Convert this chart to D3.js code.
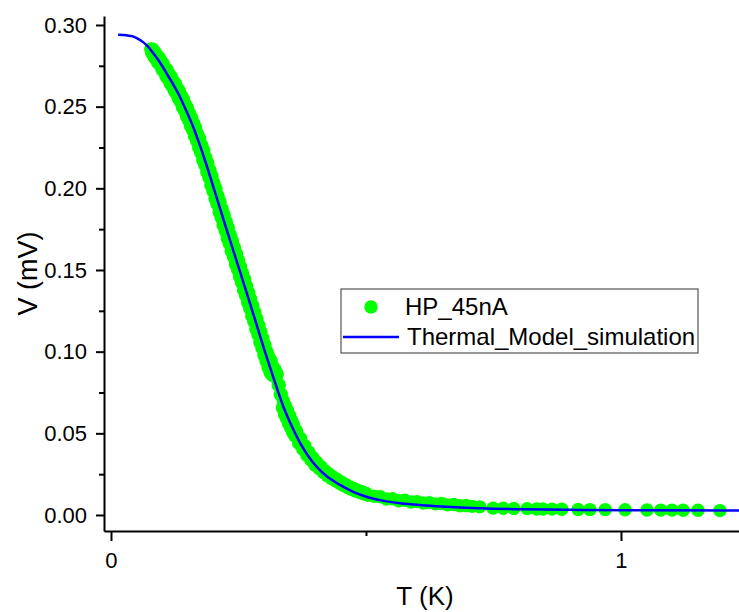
<!DOCTYPE html>
<html>
<head>
<meta charset="utf-8">
<script src="https://cdn.jsdelivr.net/npm/d3@7"></script>
<style>
    html, body { margin: 0; padding: 0; background: #fff; }
    svg { display: block; font-family: "Liberation Sans", Arial, sans-serif; }
</style>
</head>
<body>
<svg id="chart"></svg>
<script>
const measT = [
    0.078, 0.080, 0.082, 0.084, 0.086, 0.088, 0.090, 0.092, 0.094, 0.096,
    0.098, 0.100, 0.102, 0.104, 0.106, 0.108, 0.110, 0.112, 0.114, 0.116,
    0.118, 0.120, 0.122, 0.124, 0.126, 0.128, 0.130, 0.132, 0.134, 0.136,
    0.138, 0.140, 0.142, 0.144, 0.146, 0.148, 0.150, 0.152, 0.154, 0.156,
    0.158, 0.160, 0.162, 0.164, 0.166, 0.168, 0.170, 0.172, 0.174, 0.176,
    0.178, 0.180, 0.182, 0.184, 0.186, 0.188, 0.190, 0.192, 0.194, 0.196,
    0.198, 0.200, 0.202, 0.204, 0.206, 0.208, 0.210, 0.212, 0.214, 0.216,
    0.218, 0.220, 0.222, 0.224, 0.226, 0.228, 0.230, 0.232, 0.234, 0.236,
    0.238, 0.240, 0.242, 0.244, 0.246, 0.248, 0.250, 0.252, 0.254, 0.256,
    0.258, 0.260, 0.262, 0.264, 0.266, 0.268, 0.270, 0.272, 0.274, 0.276,
    0.278, 0.280, 0.282, 0.284, 0.286, 0.288, 0.290, 0.292, 0.294, 0.296,
    0.298, 0.300, 0.302, 0.304, 0.306, 0.308, 0.310, 0.312, 0.314, 0.316,
    0.318, 0.320, 0.322, 0.324, 0.326, 0.328, 0.330, 0.332, 0.334, 0.336,
    0.338, 0.340, 0.342, 0.344, 0.346, 0.348, 0.350, 0.352, 0.354, 0.356,
    0.358, 0.360, 0.364, 0.368, 0.372, 0.376, 0.380, 0.384, 0.388, 0.392,
    0.396, 0.400, 0.404, 0.408, 0.412, 0.416, 0.420, 0.424, 0.428, 0.432,
    0.436, 0.440, 0.444, 0.448, 0.452, 0.456, 0.460, 0.464, 0.468, 0.472,
    0.476, 0.480, 0.484, 0.488, 0.492, 0.496, 0.500, 0.504,
    0.516, 0.528, 0.540, 0.552, 0.564, 0.576, 0.588, 0.600, 0.612, 0.624,
    0.636, 0.648, 0.660, 0.672, 0.684, 0.696, 0.708, 0.723,
    0.749, 0.769, 0.790, 0.816, 0.835, 0.847, 0.865, 0.884, 0.916, 0.939,
    0.969, 1.008, 1.051, 1.078, 1.100, 1.122, 1.151, 1.194
];
const measV = [
    0.2853, 0.2829, 0.2851, 0.2805, 0.2836, 0.2790, 0.2815, 0.2768, 0.2803, 0.2758,
    0.2781, 0.2728, 0.2765, 0.2713, 0.2739, 0.2685, 0.2726, 0.2670, 0.2700, 0.2642,
    0.2685, 0.2626, 0.2659, 0.2598, 0.2643, 0.2580, 0.2616, 0.2550, 0.2597, 0.2532,
    0.2568, 0.2498, 0.2546, 0.2475, 0.2514, 0.2441, 0.2492, 0.2418, 0.2459, 0.2382,
    0.2434, 0.2357, 0.2399, 0.2318, 0.2371, 0.2290, 0.2333, 0.2249, 0.2304, 0.2218,
    0.2263, 0.2174, 0.2231, 0.2143, 0.2189, 0.2098, 0.2155, 0.2064, 0.2111, 0.2017,
    0.2076, 0.1983, 0.2032, 0.1936, 0.1997, 0.1902, 0.1953, 0.1855, 0.1917, 0.1821,
    0.1874, 0.1774, 0.1837, 0.1740, 0.1795, 0.1694, 0.1758, 0.1660, 0.1716, 0.1615,
    0.1679, 0.1581, 0.1638, 0.1536, 0.1601, 0.1503, 0.1561, 0.1458, 0.1522, 0.1423,
    0.1481, 0.1378, 0.1443, 0.1344, 0.1402, 0.1299, 0.1363, 0.1264, 0.1322, 0.1219,
    0.1283, 0.1184, 0.1242, 0.1139, 0.1203, 0.1103, 0.1161, 0.1058, 0.1122, 0.1022,
    0.1080, 0.0978, 0.1041, 0.0943, 0.1000, 0.0903, 0.0967, 0.0873, 0.0944, 0.0855,
    0.0907, 0.0858, 0.0890, 0.0841, 0.0863, 0.0795, 0.0796, 0.0738, 0.0740, 0.0656,
    0.0700, 0.0619, 0.0671, 0.0592, 0.0640, 0.0562, 0.0610, 0.0535, 0.0580, 0.0508,
    0.0552, 0.0485, 0.0514, 0.0439, 0.0469, 0.0403, 0.0425, 0.0365, 0.0385, 0.0335,
    0.0351, 0.0305, 0.0321, 0.0284, 0.0295, 0.0261, 0.0270, 0.0240, 0.0250, 0.0224,
    0.0233, 0.0209, 0.0217, 0.0194, 0.0201, 0.0181, 0.0187, 0.0168, 0.0173, 0.0156,
    0.0162, 0.0146, 0.0151, 0.0138, 0.0142, 0.0128, 0.0133, 0.0121,
    0.0115, 0.0112, 0.0098, 0.0100, 0.0087, 0.0090, 0.0080, 0.0082, 0.0073, 0.0076,
    0.0068, 0.0070, 0.0062, 0.0064, 0.0057, 0.0058, 0.0053, 0.0050,
    0.0042, 0.0041, 0.0040, 0.0039, 0.0037, 0.0037, 0.0036, 0.0035, 0.0034, 0.0033,
    0.0033, 0.0032, 0.0031, 0.0030, 0.0030, 0.0029, 0.0029, 0.0027
];

// Thermal_Model_simulation
const simT = [
    0.014, 0.030, 0.043, 0.055, 0.063, 0.073, 0.083, 0.096, 0.109, 0.122,
    0.135, 0.148, 0.161, 0.173, 0.186, 0.200, 0.213, 0.226, 0.240, 0.253,
    0.2725, 0.287, 0.302, 0.318, 0.338, 0.355, 0.371, 0.387, 0.403, 0.425,
    0.449, 0.475, 0.501, 0.533, 0.567, 0.610, 0.658, 0.724, 0.802, 0.920,
    1.050, 1.240
];
const simV = [
    0.2940, 0.2937, 0.2930, 0.2912, 0.2895, 0.2866, 0.2827, 0.2770, 0.2704, 0.2636,
    0.2561, 0.2472, 0.2377, 0.2275, 0.2155, 0.2015, 0.1885, 0.1755, 0.1617, 0.1490,
    0.1296, 0.1150, 0.0998, 0.0846, 0.0663, 0.0540, 0.0440, 0.0360, 0.0296, 0.0232,
    0.0184, 0.0142, 0.0112, 0.0088, 0.0072, 0.0060, 0.0051, 0.0041, 0.0035, 0.0031,
    0.0029, 0.0027
];

const seriesNames = ["HP_45nA", "Thermal_Model_simulation"];
const xTicks = [0, 1];
const xMinorTicks = [0.5];
const yTicks = [0, 0.05, 0.10, 0.15, 0.20, 0.25, 0.30];
const yMinorTicks = [0.025, 0.075, 0.125, 0.175, 0.225, 0.275];

const width = 739;
const height = 612;
const marginTop = 16;
const marginRight = 0;
const marginBottom = 81;
const marginLeft = 104;
const dotR = 6.7;

const x = d3.scaleLinear()
    .domain([-0.0137, 1.2314])
    .range([marginLeft, width - marginRight]);
const y = d3.scaleLinear()
    .domain([-0.0098, 0.3055])
    .range([height - marginBottom, marginTop]);

const svg = d3.select("#chart")
    .attr("width", width)
    .attr("height", height)
    .attr("viewBox", [0, 0, width, height]);

svg.append("clipPath")
    .attr("id", "plot-clip")
    .append("rect")
    .attr("x", marginLeft)
    .attr("y", marginTop)
    .attr("width", width - marginLeft - marginRight)
    .attr("height", height - marginTop - marginBottom);

const plot = svg.append("g").attr("clip-path", "url(#plot-clip)");

// measured dots
plot.append("g")
    .attr("fill", "#00ff00")
    .selectAll("circle")
    .data(measT.map((t, i) => [t, measV[i]]))
    .join("circle")
    .attr("cx", d => x(d[0]))
    .attr("cy", d => y(d[1]))
    .attr("r", dotR);

// simulation line
plot.append("path")
    .datum(simT.map((t, i) => [t, simV[i]]))
    .attr("fill", "none")
    .attr("stroke", "#0000ff")
    .attr("stroke-width", 2.5)
    .attr("d", d3.line().x(d => x(d[0])).y(d => y(d[1])).curve(d3.curveMonotoneX));

// y axis
svg.append("g")
    .attr("transform", `translate(${marginLeft},0)`)
    .call(d3.axisLeft(y).tickValues(yMinorTicks).tickSize(5).tickFormat(""))
    .call(g => g.select(".domain").remove())
    .call(g => g.selectAll(".tick line").attr("stroke", "#000").attr("stroke-width", 2));

svg.append("g")
    .attr("transform", `translate(${marginLeft},0)`)
    .call(d3.axisLeft(y).tickValues(yTicks).tickSize(8).tickSizeOuter(0).tickPadding(9).tickFormat(d3.format(".2f")))
    .call(g => g.select(".domain").attr("stroke", "#000").attr("stroke-width", 2))
    .call(g => g.selectAll(".tick line").attr("stroke", "#000").attr("stroke-width", 2))
    .call(g => g.selectAll(".tick text")
        .attr("fill", "#000")
        .attr("font-family", "'Liberation Sans', Arial, sans-serif")
        .attr("font-size", 22));

// x axis
svg.append("g")
    .attr("transform", `translate(0,${height - marginBottom})`)
    .call(d3.axisBottom(x).tickValues(xMinorTicks).tickSize(5).tickFormat(""))
    .call(g => g.select(".domain").remove())
    .call(g => g.selectAll(".tick line").attr("stroke", "#000").attr("stroke-width", 2));

svg.append("g")
    .attr("transform", `translate(0,${height - marginBottom})`)
    .call(d3.axisBottom(x).tickValues(xTicks).tickSize(10).tickSizeOuter(0).tickPadding(11).tickFormat(d3.format("d")))
    .call(g => g.select(".domain").attr("stroke", "#000").attr("stroke-width", 2))
    .call(g => g.selectAll(".tick line").attr("stroke", "#000").attr("stroke-width", 2))
    .call(g => g.selectAll(".tick text")
        .attr("fill", "#000")
        .attr("font-family", "'Liberation Sans', Arial, sans-serif")
        .attr("font-size", 22));

// axis titles
svg.append("text")
    .attr("x", 425)
    .attr("y", 605)
    .attr("text-anchor", "middle")
    .attr("font-size", 26)
    .attr("fill", "#000")
    .text("T (K)");

svg.append("text")
    .attr("transform", `translate(37,${(marginTop + height - marginBottom) / 2}) rotate(-90)`)
    .attr("text-anchor", "middle")
    .attr("font-size", 27)
    .attr("fill", "#000")
    .text("V (mV)");

// legend
const legend = svg.append("g").attr("transform", "translate(341,289)");
legend.append("rect")
    .attr("width", 357)
    .attr("height", 64)
    .attr("fill", "#fff")
    .attr("stroke", "#333")
    .attr("stroke-width", 1);
legend.append("circle")
    .attr("cx", 30)
    .attr("cy", 18)
    .attr("r", dotR)
    .attr("fill", "#00ff00");
legend.append("line")
    .attr("x1", 2)
    .attr("x2", 58)
    .attr("y1", 48)
    .attr("y2", 48)
    .attr("stroke", "#0000ff")
    .attr("stroke-width", 2.5);
legend.selectAll("text.label")
    .data(seriesNames)
    .join("text")
    .attr("class", "label")
    .attr("x", (d, i) => i === 0 ? 64 : 66)
    .attr("y", (d, i) => 26 + i * 30)
    .attr("font-size", 24)
    .attr("fill", "#000")
    .text(d => d);
</script>
</body>
</html>
